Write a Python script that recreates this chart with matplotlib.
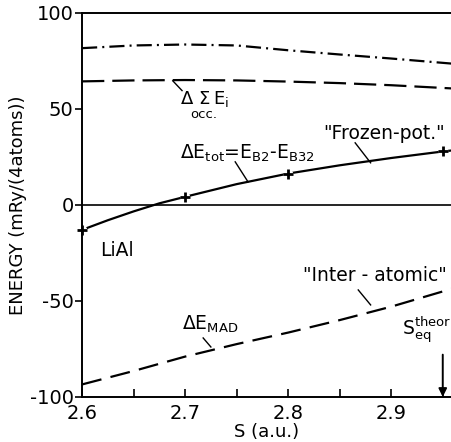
import numpy as np
import matplotlib.pyplot as plt
from matplotlib.ticker import MultipleLocator

plt.rcParams['font.family'] = 'DejaVu Sans'
plt.rcParams['axes.unicode_minus'] = False
plt.rcParams['mathtext.fontset'] = 'dejavusans'
plt.rcParams['mathtext.default'] = 'regular'

# Кривые энергии LiAl в зависимости от S (a.u.), mRy/(4 атома)
s_grid = [2.60, 2.65, 2.70, 2.75, 2.80, 2.85, 2.90, 2.96]
e_upper = [81.6, 83.0, 83.5, 83.0, 80.5, 78.3, 76.2, 73.5]     # штрихпунктир
e_band = [64.3, 64.8, 65.0, 64.8, 64.2, 63.4, 62.3, 60.6]      # Δ Σ_occ E_i
e_mad = [-93.5, -86.5, -79.0, -72.5, -66.5, -60.0, -53.0, -43.5]  # ΔE_MAD

# ΔE_tot = E_B2 - E_B32 ("frozen-pot.")
s_tot = [2.600, 2.625, 2.650, 2.675, 2.700, 2.750, 2.800, 2.850, 2.900, 2.950, 2.960]
e_tot = [-13.0, -8.0, -3.4, 0.8, 4.2, 10.8, 16.3, 20.6, 24.4, 27.8, 28.4]
s_pts = [2.60, 2.70, 2.80, 2.95]
e_pts = [-13.0, 4.2, 16.3, 27.8]

s_eq = 2.95

fig = plt.figure(figsize=(4.51, 4.42), dpi=100)
ax = fig.add_axes([0.182, 0.102, 0.818, 0.869])

lw = 1.6
ax.plot(s_grid, e_upper, color='black', lw=lw, dashes=(6.8, 2.3, 0.9, 2.3))
ax.plot(s_grid, e_band, color='black', lw=lw, dashes=(10, 3.6))
ax.plot(s_grid, e_mad, color='black', lw=lw, dashes=(9, 4.2))
ax.plot(s_tot, e_tot, color='black', lw=lw, zorder=2)
ax.plot(s_pts, e_pts, 'o', color='white', ms=7, mew=0, zorder=2.1, clip_on=False)
ax.plot(s_pts, e_pts, '+', color='black', ms=7, mew=2, zorder=3, clip_on=False)

ax.axhline(0, color='black', lw=1.2)

ax.set_xlim(2.6, 2.958)
ax.set_ylim(-100, 100)
ax.spines['right'].set_visible(False)
for sp_name in ('left', 'bottom', 'top'):
    ax.spines[sp_name].set_linewidth(1.4)

ax.xaxis.set_major_locator(MultipleLocator(0.1))
ax.xaxis.set_minor_locator(MultipleLocator(0.05))
ax.yaxis.set_major_locator(MultipleLocator(50))
ax.xaxis.set_major_formatter(plt.FuncFormatter(lambda v, p: f'{v:.1f}'))
ax.tick_params(axis='x', which='both', direction='in', length=6, width=1.2,
               labelsize=14, pad=5)
ax.tick_params(axis='y', direction='out', length=5, width=1.2, labelsize=14, pad=1)

ax.set_xlabel('S (a.u.)', fontsize=13, labelpad=0)
ax.set_ylabel('ENERGY (mRy/(4atoms))', fontsize=13, labelpad=2)

# подписи и выноски
fs = 13.5
ax.text(2.6951, 55.2, r'$\Delta$', fontsize=13, ha='left', va='center')
ax.text(2.7126, 55.2, r'$\Sigma$', fontsize=13, ha='left', va='center')
ax.text(2.7272, 55.2, r'$E_i$', fontsize=13, ha='left', va='center')
ax.text(2.7184, 47.0, 'occ.', fontsize=9.5, ha='center', va='center')
ax.plot([2.688, 2.697], [64.6, 59.5], color='black', lw=1)

ax.text(2.695, 21.5, r'$\Delta E_{tot}$=$E_{B2}$-$E_{B32}$', fontsize=fs,
        ha='left', va='bottom')
ax.plot([2.7486, 2.761], [22.4, 12.0], color='black', lw=1)

ax.text(2.834, 32.3, '"Frozen-pot."', fontsize=fs, ha='left', va='bottom')
ax.plot([2.865, 2.880], [32.3, 21.9], color='black', lw=1)

ax.text(2.6175, -24, 'LiAl', fontsize=fs, ha='left', va='center')

ax.text(2.8146, -41.7, '"Inter - atomic"', fontsize=fs, ha='left', va='bottom')
ax.plot([2.868, 2.880], [-44.3, -52.1], color='black', lw=1)

ax.text(2.697, -67.7, r'$\Delta E_{MAD}$', fontsize=fs, ha='left', va='bottom')
ax.plot([2.7175, 2.725], [-69.3, -74.0], color='black', lw=1)

ax.text(2.9107, -73, r'$S_{eq}^{theor}$', fontsize=fs, ha='left', va='bottom')
ax.annotate('', xy=(s_eq, -100), xytext=(s_eq, -78),
            arrowprops=dict(arrowstyle='-|>', color='black', lw=1.4,
                            mutation_scale=12, shrinkA=0, shrinkB=0))

fig.savefig('out.png', dpi=100)
